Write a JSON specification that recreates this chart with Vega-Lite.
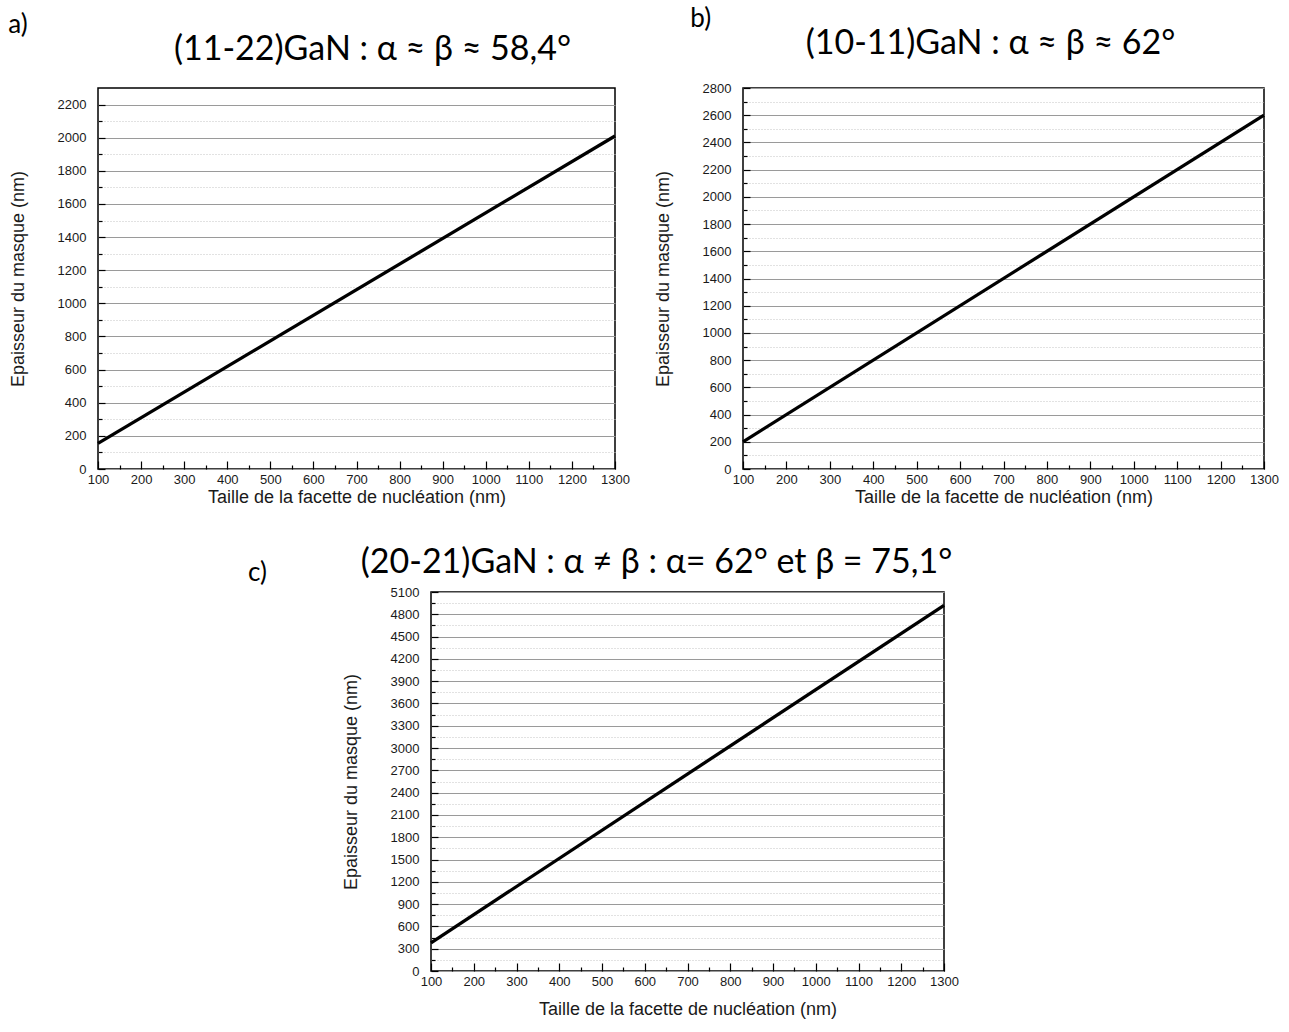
{
  "$schema": "https://vega.github.io/schema/vega-lite/v6.json",
  "background": "white",
  "padding": {"left": 8, "top": 6, "right": 4, "bottom": 4},
  "config": {
    "view": {"stroke": "black", "strokeWidth": 1.5},
    "font": "Liberation Sans",
    "axis": {
      "domain": false,
      "labelFont": "Liberation Sans",
      "labelFontSize": 13,
      "labelColor": "#1a1a1a",
      "labelOverlap": false,
      "labelFlush": false,
      "format": "d",
      "titleFont": "Liberation Sans",
      "titleFontSize": 18,
      "titleFontWeight": "normal",
      "titleColor": "#1a1a1a",
      "tickColor": "black",
      "tickWidth": 1.2
    },
    "title": {"font": "Lato", "fontSize": 34, "fontWeight": "normal", "color": "black"}
  },
  "datasets": {
    "a": [{"taille": 100, "epaisseur": 155}, {"taille": 1300, "epaisseur": 2010}],
    "b": [{"taille": 100, "epaisseur": 200}, {"taille": 1300, "epaisseur": 2600}],
    "c": [{"taille": 100, "epaisseur": 380}, {"taille": 1300, "epaisseur": 4920}]
  },
  "vconcat": [
    {
      "spacing": 22,
      "hconcat": [
        {
          "title": {"text": "a)", "anchor": "start", "fontSize": 26, "offset": -6},
          "vconcat": [
            {
              "title": {"text": "(11-22)GaN : α ≈ β ≈ 58,4°", "offset": 21, "dx": 16},
              "width": 517,
              "height": 381,
              "data": {"name": "a"},
              "layer": [
                {
                  "mark": {"type": "line", "opacity": 0},
                  "encoding": {
                    "x": {"field": "taille", "type": "quantitative", "scale": {"domain": [100, 1300], "nice": false},
                      "axis": {"orient": "bottom", "values": [150,250,350,450,550,650,750,850,950,1050,1150,1250], "labels": false, "title": null, "tickSize": -4, "grid": false}},
                    "y": {"field": "epaisseur", "type": "quantitative", "scale": {"domain": [0, 2300], "nice": false},
                      "axis": {"orient": "left", "values": [100,300,500,700,900,1100,1300,1500,1700,1900,2100], "labels": false, "title": null, "tickSize": -4, "grid": true, "gridColor": "#c4c4c4", "gridDash": [1, 2], "gridWidth": 1}}
                  }
                },
                {
                  "mark": {"type": "line", "color": "black", "strokeWidth": 3.3},
                  "encoding": {
                    "x": {"field": "taille", "type": "quantitative",
                      "axis": {"orient": "bottom", "values": [100,200,300,400,500,600,700,800,900,1000,1100,1200,1300], "title": "Taille de la facette de nucléation (nm)", "tickSize": -8, "labelPadding": 12, "titlePadding": 2, "grid": false}},
                    "y": {"field": "epaisseur", "type": "quantitative",
                      "axis": {"orient": "left", "values": [0,200,400,600,800,1000,1200,1400,1600,1800,2000,2200], "title": "Epaisseur du masque (nm)", "tickSize": -7, "labelPadding": 19, "titlePadding": 30, "grid": true, "gridColor": "#9a9a9a", "gridWidth": 1}}
                  }
                }
              ],
              "resolve": {"axis": {"x": "independent", "y": "independent"}}
            }
          ]
        },
        {
          "title": {"text": "b)", "anchor": "start", "fontSize": 26, "dx": 37, "offset": -6},
          "vconcat": [
            {
              "title": {"text": "(10-11)GaN : α ≈ β ≈ 62°", "offset": 21, "dx": -13},
              "width": 521,
              "height": 381,
              "data": {"name": "b"},
              "layer": [
                {
                  "mark": {"type": "line", "opacity": 0},
                  "encoding": {
                    "x": {"field": "taille", "type": "quantitative", "scale": {"domain": [100, 1300], "nice": false},
                      "axis": {"orient": "bottom", "values": [150,250,350,450,550,650,750,850,950,1050,1150,1250], "labels": false, "title": null, "tickSize": -4, "grid": false}},
                    "y": {"field": "epaisseur", "type": "quantitative", "scale": {"domain": [0, 2800], "nice": false},
                      "axis": {"orient": "left", "values": [100,300,500,700,900,1100,1300,1500,1700,1900,2100,2300,2500,2700], "labels": false, "title": null, "tickSize": -4, "grid": true, "gridColor": "#c4c4c4", "gridDash": [1, 2], "gridWidth": 1}}
                  }
                },
                {
                  "mark": {"type": "line", "color": "black", "strokeWidth": 3.3},
                  "encoding": {
                    "x": {"field": "taille", "type": "quantitative",
                      "axis": {"orient": "bottom", "values": [100,200,300,400,500,600,700,800,900,1000,1100,1200,1300], "title": "Taille de la facette de nucléation (nm)", "tickSize": -8, "labelPadding": 12, "titlePadding": 2, "grid": false}},
                    "y": {"field": "epaisseur", "type": "quantitative",
                      "axis": {"orient": "left", "values": [0,200,400,600,800,1000,1200,1400,1600,1800,2000,2200,2400,2600,2800], "title": "Epaisseur du masque (nm)", "tickSize": -7, "labelPadding": 19, "titlePadding": 30, "grid": true, "gridColor": "#9a9a9a", "gridWidth": 1}}
                  }
                }
              ],
              "resolve": {"axis": {"x": "independent", "y": "independent"}}
            }
          ]
        }
      ]
    },
    {
      "spacing": 74,
      "hconcat": [
        {
          "title": {"text": "c)", "anchor": "end", "fontSize": 26, "offset": 6},
          "width": 169,
          "height": 10,
          "view": {"stroke": null},
          "data": {"values": [{}]},
          "mark": {"type": "rule", "opacity": 0},
          "encoding": {}
        },
        {
          "title": {"text": "(20-21)GaN : α ≠ β : α= 62° et β = 75,1°", "offset": 6, "dx": -31},
          "width": 513,
          "height": 379,
          "data": {"name": "c"},
          "layer": [
            {
              "mark": {"type": "line", "opacity": 0},
              "encoding": {
                "x": {"field": "taille", "type": "quantitative", "scale": {"domain": [100, 1300], "nice": false},
                  "axis": {"orient": "bottom", "values": [150,250,350,450,550,650,750,850,950,1050,1150,1250], "labels": false, "title": null, "tickSize": -4, "grid": false}},
                "y": {"field": "epaisseur", "type": "quantitative", "scale": {"domain": [0, 5100], "nice": false},
                  "axis": {"orient": "left", "values": [150,450,750,1050,1350,1650,1950,2250,2550,2850,3150,3450,3750,4050,4350,4650,4950], "labels": false, "title": null, "tickSize": -4, "grid": true, "gridColor": "#c4c4c4", "gridDash": [1, 2], "gridWidth": 1}}
              }
            },
            {
              "mark": {"type": "line", "color": "black", "strokeWidth": 3.3},
              "encoding": {
                "x": {"field": "taille", "type": "quantitative",
                  "axis": {"orient": "bottom", "values": [100,200,300,400,500,600,700,800,900,1000,1100,1200,1300], "title": "Taille de la facette de nucléation (nm)", "tickSize": -8, "labelPadding": 12, "titlePadding": 12, "grid": false}},
                "y": {"field": "epaisseur", "type": "quantitative",
                  "axis": {"orient": "left", "values": [0,300,600,900,1200,1500,1800,2100,2400,2700,3000,3300,3600,3900,4200,4500,4800,5100], "title": "Epaisseur du masque (nm)", "tickSize": -7, "labelPadding": 19, "titlePadding": 30, "grid": true, "gridColor": "#9a9a9a", "gridWidth": 1}}
              }
            }
          ],
          "resolve": {"axis": {"x": "independent", "y": "independent"}}
        }
      ]
    }
  ],
  "spacing": 38
}
